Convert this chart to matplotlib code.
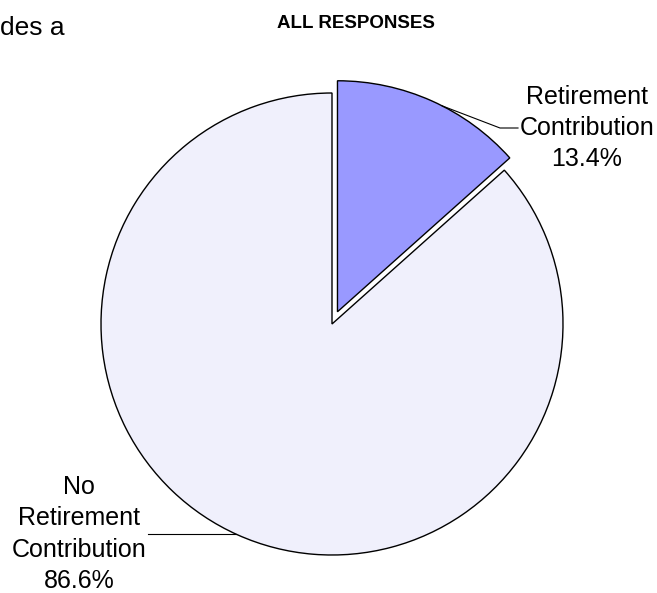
import numpy as np
import matplotlib
matplotlib.use('Agg')
import matplotlib.pyplot as plt

labels = ['Retirement\nContribution', 'No\nRetirement\nContribution']
shares = [13.4, 86.6]
colors = ['#9999FF', '#F0F0FC']
explode = [13.4, 0.0]   # pie offsets are in data units here

W, H = 657, 593
fig = plt.figure(figsize=(W / 100, H / 100), dpi=100)
ax = fig.add_axes([0, 0, 1, 1])

# work in pixel-like units, y measured upward
cx, cy, R = 332, H - 324, 231
wedges, _ = ax.pie(shares, colors=colors, explode=explode, startangle=90,
                   counterclock=False, radius=R, center=(cx, cy),
                   wedgeprops=dict(edgecolor='black', linewidth=1.0))
ax.set_xlim(0, W)
ax.set_ylim(0, H)
ax.set_aspect('auto')
ax.axis('off')

plt.rcParams['font.family'] = ['Liberation Sans', 'DejaVu Sans']
lbl_size = 18
lbl_spacing = 1.38

def wedge_point(w, ang_deg):
    a = np.deg2rad(ang_deg)
    return w.center[0] + w.r * np.cos(a), w.center[1] + w.r * np.sin(a)

# small slice: leader from the arc up to the right label
ax_pt = wedge_point(wedges[0], 63)
ly = H - 128
ax.plot([ax_pt[0], 500, 518], [ax_pt[1], ly, ly], color='black', lw=0.8)
ax.text(587, ly, f'{labels[0]}\n{shares[0]:.1f}%', ha='center', va='center',
        multialignment='center', fontsize=lbl_size, linespacing=lbl_spacing)

# big slice: horizontal leader to the lower-left label
bx_pt = wedge_point(wedges[1], 245.4)
ly2 = bx_pt[1]
ax.plot([148, bx_pt[0]], [ly2, ly2], color='black', lw=0.8)
ax.text(79, ly2, f'{labels[1]}\n{shares[1]:.1f}%', ha='center', va='center',
        multialignment='center', fontsize=lbl_size, linespacing=lbl_spacing)

ax.text(356, H - 28, 'ALL RESPONSES', ha='center', va='baseline',
        fontsize=13.5, fontweight='bold')

# tail of the surrounding body text
ax.text(65, H - 35, 'des a', ha='right', va='baseline', fontsize=19)

fig.savefig('out.png', dpi=100, facecolor='white')
